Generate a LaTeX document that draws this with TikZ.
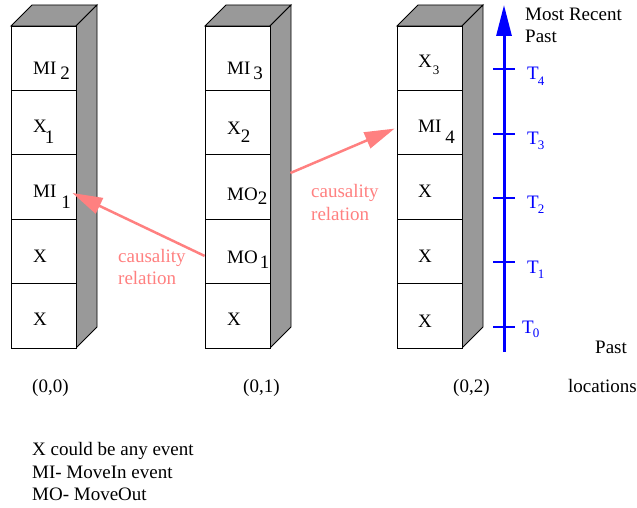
\documentclass[tikz,border=0pt]{standalone}
\usepackage{fontspec}
\setmainfont{Liberation Serif}
\usetikzlibrary{arrows.meta}
\definecolor{causal}{RGB}{255,128,128}
\definecolor{sidegray}{RGB}{153,153,153}
\definecolor{axisblue}{RGB}{0,0,255}
\newcommand\sbx[3]{\hspace{#1pt}\raisebox{-#2pt}{#3}}
\newcommand\sbs[3]{\hspace{#1pt}\raisebox{-#2pt}{\fontsize{13}{13}\selectfont #3}}
\begin{document}
\begin{tikzpicture}[x=1pt,y=-1pt,
  every node/.style={font=\fontsize{19}{22}\selectfont},
  cell/.style={draw=black, line width=0.9pt, minimum width=65pt, minimum height=64.4pt, inner sep=0pt, fill=white},
  face/.style={draw=black, line width=0.9pt, fill=sidegray},
  lbl/.style={anchor=base west, inner sep=0pt},
  blbl/.style={anchor=base west, inner sep=0pt, text=axisblue},
  clbl/.style={anchor=base west, inner sep=0pt, text=causal, align=left},
  causarrow/.style={draw=causal, line width=2.5pt, -{Triangle[length=30pt,width=17pt]}},
  tick/.style={draw=axisblue, line width=1.5pt}
]
\useasboundingbox (0,0) rectangle (637,508);

% ---- columns (3D boxes) ----
\foreach \c/\x in {1/11, 2/205, 3/397}{
  \draw[face] (\x,26) -- (\x+21,5) -- (\x+86,5) -- (\x+65,26) -- cycle;
  \draw[face] (\x+65,26) -- (\x+86,5) -- (\x+86,327) -- (\x+65,348) -- cycle;
  \foreach \r in {1,...,5}{
    \node[cell] (c\c r\r) at (\x+32.5, {26+(\r-0.5)*64.4}) {};
  }
}

% ---- column 1 texts ----
\node[lbl] (t11) at (33,75)  {MI\sbx{4}{5}{2}};
\node[lbl] (t12) at (33,132) {X\sbx{-2}{11}{1}};
\node[lbl] (t13) at (33,197) {MI\sbx{5}{11}{1}};
\node[lbl] (t14) at (33,262) {X};
\node[lbl] (t15) at (33,325) {X};

% ---- column 2 texts ----
\node[lbl] (t21) at (227,75)  {MI\sbx{3}{5}{3}};
\node[lbl] (t22) at (227,135) {X\sbx{0}{8}{2}};
\node[lbl] (t23) at (227,200) {MO\sbx{0}{4}{2}};
\node[lbl] (t24) at (227,263) {MO\sbx{2}{5}{1}};
\node[lbl] (t25) at (227,325) {X};

% ---- column 3 texts ----
\node[lbl] (t31) at (418,68)  {X\sbs{1}{7}{3}};
\node[lbl] (t32) at (418,133) {MI\sbx{4}{10}{4}};
\node[lbl] (t33) at (418,197) {X};
\node[lbl] (t34) at (418,262) {X};
\node[lbl] (t35) at (418,327) {X};

% ---- time axis ----
\coordinate (axb) at (504,352);
\coordinate (axt) at (504,5);
\draw[draw=axisblue, line width=3pt, -{Triangle[length=31pt,width=15pt]}] (axb) -- (axt);
\foreach \i/\y in {4/69, 3/134, 2/198, 1/262, 0/327}{
  \coordinate (tk\i a) at (493,\y);
  \coordinate (tk\i b) at (515,\y);
  \draw[tick] (tk\i a) -- (tk\i b);
}
\node[blbl] (T4) at (527,80)  {T\sbs{-1}{6}{4}};
\node[blbl] (T3) at (527,145) {T\sbs{-1}{5}{3}};
\node[blbl] (T2) at (527,208) {T\sbs{-1}{5}{2}};
\node[blbl] (T1) at (527,273) {T\sbs{-1}{5}{1}};
\node[blbl] (T0) at (522,333) {T\sbs{-1}{4}{0}};

\node[lbl, align=left] (mrp) at (525,21) {Most Recent};
\node[lbl] (mrp2) at (525,43) {Past};
\node[lbl] (past) at (595,353) {Past};

% ---- causality arrows ----
\draw[causarrow] ([yshift=-4.5pt]c2r4.west) -- ([xshift=-4pt,yshift=-6pt]c1r3.east);
\draw[causarrow] ([xshift=20pt,yshift=14pt]c2r3.east) -- ([xshift=-2pt,yshift=-6pt]c3r2.west);
\node[clbl] (cl1a) at (118,262) {causality};
\node[clbl] (cl1b) at (118,284) {relation};
\node[clbl] (cl2a) at (311,197) {causality};
\node[clbl] (cl2b) at (311,220) {relation};

% ---- location labels ----
\node[lbl] (l0) at (32,392)  {(0,0)};
\node[lbl] (l1) at (243,392) {(0,1)};
\node[lbl] (l2) at (453,392) {(0,2)};
\node[lbl] (loc) at (568,392) {locations};

% ---- legend ----
\node[lbl] (lg1) at (32,455) {X could be any event};
\node[lbl] (lg2) at (32,478) {MI- MoveIn event};
\node[lbl] (lg3) at (32,500) {MO- MoveOut};
\end{tikzpicture}
\end{document}
